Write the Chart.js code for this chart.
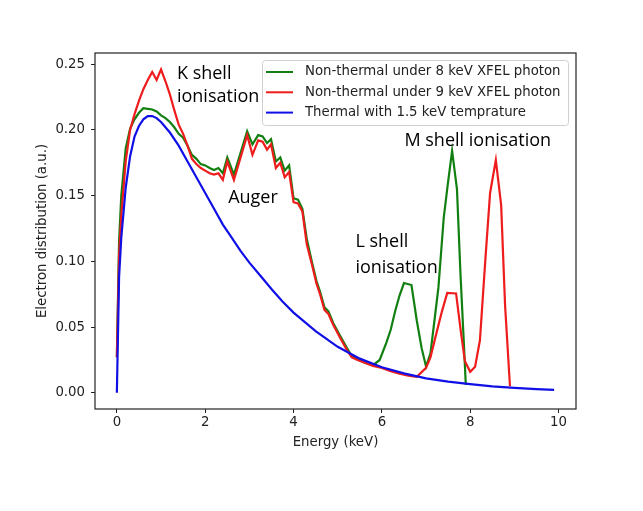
<!DOCTYPE html>
<html>
<head>
<meta charset="utf-8">
<script src="https://cdn.jsdelivr.net/npm/chart.js@4.4.1/dist/chart.umd.min.js"></script>
<style>
  html, body { margin: 0; padding: 0; background: #fff; }
  #wrap { width: 643px; height: 511px; }
</style>
</head>
<body>
<div id="wrap"><canvas id="electronChart" width="643" height="511"></canvas></div>
<script>
// Energy grid (keV) and electron distribution (a.u.)
const xTicks = [0, 2, 4, 6, 8, 10];
const yTicks = [0, 0.05, 0.10, 0.15, 0.20, 0.25];

const seriesLabels = [
    'Non-thermal under 8 keV XFEL photon',
    'Non-thermal under 9 keV XFEL photon',
    'Thermal with 1.5 keV temprature'
];

const nt8Energy = [0, 0.05, 0.1, 0.2, 0.3, 0.4, 0.5, 0.6, 0.7, 0.8, 0.9, 1.0, 1.1, 1.2, 1.3, 1.4, 1.5, 1.6, 1.7, 1.8, 1.9,
    2.0, 2.1, 2.2, 2.3, 2.4, 2.5, 2.65, 2.95, 3.07, 3.2, 3.3, 3.4, 3.49, 3.6, 3.7, 3.8, 3.9,
    4.0, 4.1, 4.2, 4.3, 4.42, 4.52, 4.6, 4.7, 4.79, 4.9, 5.06, 5.21, 5.32, 5.45, 5.6, 5.8, 5.95,
    6.1, 6.2, 6.3, 6.4, 6.5, 6.67, 6.79, 6.9, 7.0, 7.1, 7.28, 7.4, 7.49, 7.59, 7.7, 7.78, 7.86, 7.9];
const nt8Values = [0.027, 0.115, 0.150, 0.186, 0.201, 0.208, 0.213, 0.2165, 0.216, 0.2155, 0.214, 0.211, 0.209, 0.206, 0.202, 0.197, 0.194, 0.188, 0.181, 0.178, 0.174,
    0.173, 0.171, 0.1695, 0.171, 0.167, 0.179, 0.166, 0.199, 0.189, 0.196, 0.195, 0.190, 0.193, 0.176, 0.179, 0.169, 0.173,
    0.148, 0.147, 0.140, 0.117, 0.099, 0.085, 0.077, 0.065, 0.062, 0.053, 0.043, 0.034, 0.028, 0.0255, 0.023, 0.021, 0.025,
    0.038, 0.048, 0.062, 0.074, 0.0835, 0.082, 0.055, 0.034, 0.020, 0.030, 0.080, 0.133, 0.158, 0.184, 0.155, 0.090, 0.035, 0.006];

const nt9Energy = [0, 0.05, 0.1, 0.2, 0.3, 0.4, 0.5, 0.6, 0.7, 0.8, 0.9, 1.0, 1.1, 1.2, 1.3, 1.4, 1.5, 1.6, 1.7, 1.8, 1.9,
    2.0, 2.1, 2.2, 2.3, 2.4, 2.5, 2.65, 2.95, 3.07, 3.2, 3.3, 3.4, 3.49, 3.6, 3.7, 3.8, 3.9,
    4.0, 4.1, 4.2, 4.3, 4.42, 4.52, 4.6, 4.7, 4.79, 4.9, 5.06, 5.21, 5.32, 5.45, 5.6, 5.8,
    6.0, 6.2, 6.4, 6.6, 6.79, 7.0, 7.1, 7.21, 7.36, 7.48, 7.68, 7.79, 7.88,
    8.0, 8.11, 8.22, 8.34, 8.45, 8.58, 8.7, 8.79, 8.9];
const nt9Values = [0.027, 0.105, 0.135, 0.176, 0.200, 0.212, 0.222, 0.231, 0.238, 0.244, 0.238, 0.246, 0.237, 0.227, 0.215, 0.204, 0.197, 0.188, 0.178, 0.174, 0.171,
    0.169, 0.167, 0.166, 0.167, 0.162, 0.176, 0.162, 0.196, 0.181, 0.192, 0.191, 0.185, 0.189, 0.171, 0.175, 0.164, 0.168,
    0.145, 0.144, 0.138, 0.113, 0.097, 0.083, 0.075, 0.063, 0.060, 0.0515, 0.0415, 0.0325, 0.027, 0.025, 0.023, 0.0205,
    0.019, 0.0165, 0.0145, 0.013, 0.0122, 0.019, 0.027, 0.042, 0.062, 0.076, 0.0756, 0.046, 0.024,
    0.016, 0.0198, 0.040, 0.100, 0.152, 0.177, 0.143, 0.066, 0.005];

const thermalEnergy = [0, 0.05, 0.1, 0.2, 0.3, 0.4, 0.5, 0.6, 0.7, 0.8, 0.9, 1.0, 1.2, 1.4, 1.6, 1.8,
    2.0, 2.2, 2.4, 2.6, 2.8, 3.0, 3.25, 3.5, 3.75, 4.0, 4.5, 5.0, 5.5, 6.0, 6.5, 7.0, 7.5, 8.0, 8.5, 9.0, 9.5, 9.9];
const thermalValues = [0, 0.088, 0.118, 0.156, 0.180, 0.195, 0.203, 0.208, 0.2105, 0.2105, 0.209, 0.206, 0.198, 0.188, 0.176, 0.164,
    0.152, 0.140, 0.128, 0.118, 0.108, 0.099, 0.089, 0.079, 0.0695, 0.061, 0.047, 0.035, 0.026, 0.0195, 0.0148, 0.011, 0.0085, 0.0066, 0.0049, 0.0037, 0.0028, 0.0022];

// Text notes placed in data coordinates (keV, a.u.)
const notes = [
    { text: 'K shell', x: 1.36, y: 0.2391 },
    { text: 'ionisation', x: 1.36, y: 0.2214 },
    { text: 'Auger', x: 2.52, y: 0.1446 },
    { text: 'M shell ionisation', x: 6.51, y: 0.1877 },
    { text: 'L shell', x: 5.40, y: 0.1112 },
    { text: 'ionisation', x: 5.40, y: 0.0914 }
];

const seriesColors = ['#118011', '#ee1c1c', '#1010e6'];
const inkColor = '#222222';
const tickFont = { family: "'DejaVu Sans', sans-serif", size: 13.3 };

const toPoints = (xs, ys) => xs.map((x, i) => ({ x: x, y: ys[i] }));

// frame, legend and text notes
const decorPlugin = {
    id: 'decor',
    afterDatasetsDraw(chart) {
        const ctx = chart.ctx;
        const ca = chart.chartArea;
        const xs = chart.scales.x;
        const ys = chart.scales.y;
        ctx.save();

        // axes frame
        ctx.strokeStyle = inkColor;
        ctx.lineWidth = 1.2;
        ctx.strokeRect(ca.left, ca.top, ca.right - ca.left, ca.bottom - ca.top);

        // notes
        ctx.fillStyle = '#000';
        ctx.font = "18px 'Open Sans', sans-serif";
        ctx.textBaseline = 'alphabetic';
        ctx.textAlign = 'left';
        notes.forEach(n => {
            ctx.fillText(n.text, xs.getPixelForValue(n.x), ys.getPixelForValue(n.y));
        });

        // legend
        const bx = ca.right - 314, by = ca.top + 7, bw = 306, bh = 65;
        ctx.fillStyle = 'rgba(255,255,255,0.8)';
        ctx.strokeStyle = '#d0d0d0';
        ctx.lineWidth = 1;
        ctx.beginPath();
        ctx.roundRect(bx + 0.5, by + 0.5, bw, bh, 3);
        ctx.fill();
        ctx.stroke();
        ctx.font = "13.3px 'DejaVu Sans', sans-serif";
        ctx.textBaseline = 'middle';
        seriesLabels.forEach((label, i) => {
            const ry = by + 12 + i * 20.3;
            ctx.strokeStyle = seriesColors[i];
            ctx.lineWidth = 2;
            ctx.beginPath();
            ctx.moveTo(bx + 4, ry);
            ctx.lineTo(bx + 31, ry);
            ctx.stroke();
            ctx.fillStyle = inkColor;
            ctx.fillText(label, bx + 43, ry);
        });
        ctx.restore();
    }
};

const ctx = document.getElementById('electronChart');
new Chart(ctx, {
    type: 'line',
    data: {
        datasets: [
            { label: seriesLabels[0], data: toPoints(nt8Energy, nt8Values), borderColor: seriesColors[0], order: 3 },
            { label: seriesLabels[1], data: toPoints(nt9Energy, nt9Values), borderColor: seriesColors[1], order: 2 },
            { label: seriesLabels[2], data: toPoints(thermalEnergy, thermalValues), borderColor: seriesColors[2], order: 1 }
        ]
    },
    options: {
        responsive: false,
        animation: false,
        devicePixelRatio: 1,
        layout: { padding: { left: 0, right: 67, top: 53, bottom: 0 } },
        elements: {
            line: { borderWidth: 2.2, tension: 0, fill: false },
            point: { radius: 0, hoverRadius: 0 }
        },
        plugins: {
            legend: { display: false },
            tooltip: { enabled: false }
        },
        scales: {
            x: {
                type: 'linear',
                min: -0.495,
                max: 10.395,
                afterBuildTicks: scale => { scale.ticks = xTicks.map(v => ({ value: v })); },
                afterFit: scale => { scale.height = 102; },
                grid: { drawOnChartArea: false, drawTicks: true, tickLength: 4, color: inkColor, lineWidth: 1 },
                border: { display: false },
                ticks: { color: inkColor, font: tickFont, padding: 2, maxRotation: 0 },
                title: { display: true, text: 'Energy (keV)', color: inkColor, font: tickFont, padding: { top: 0, bottom: 60 } }
            },
            y: {
                type: 'linear',
                min: -0.0123,
                max: 0.2585,
                afterBuildTicks: scale => { scale.ticks = yTicks.map(v => ({ value: v })); },
                afterFit: scale => { scale.width = 95; },
                grid: { drawOnChartArea: false, drawTicks: true, tickLength: 4, color: inkColor, lineWidth: 1 },
                border: { display: false },
                ticks: { color: inkColor, font: tickFont, padding: 6, callback: v => v.toFixed(2) },
                title: { display: true, text: 'Electron distribution (a.u.)', color: inkColor, font: tickFont, padding: { top: 35, bottom: 0 } }
            }
        }
    },
    plugins: [decorPlugin]
});
</script>
</body>
</html>
